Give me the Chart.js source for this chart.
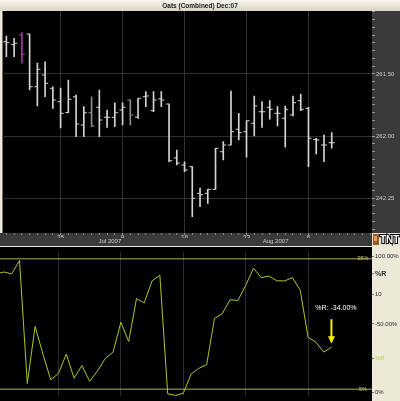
<!DOCTYPE html>
<html><head><meta charset="utf-8">
<script src="https://cdn.jsdelivr.net/npm/chart.js@4.4.0/dist/chart.umd.min.js"></script>
<style>
html,body{margin:0;padding:0;background:#ece9d8;width:400px;height:401px;overflow:hidden}
#w1{position:absolute;left:0;top:0;width:400px;height:246px}
#w2{position:absolute;left:0;top:247px;width:400px;height:154px}
</style></head><body>
<div id="w1"><canvas id="c1"></canvas></div>
<div id="w2"><canvas id="c2"></canvas></div>
<script>
// ---------- data ----------
const TITLE = 'Oats (Combined) Dec:07';
const OPEN  = [266.45,266.00,267.50,267.63,259.55,261.35,259.31,257.26,255.60,258.02,253.69,255.57,256.40,254.87,254.87,255.98,257.52,254.87,258.02,255.88,257.70,256.90,248.63,247.56,247.30,243.22,243.22,243.83,249.59,250.62,253.03,252.66,253.95,255.72,256.40,255.48,254.71,255.22,257.41,256.24,251.49,250.62,250.97];
const HIGH  = [267.32,266.97,267.83,267.63,263.19,263.38,259.55,259.35,260.58,258.28,256.49,258.02,259.05,255.98,257.10,257.10,257.52,257.78,258.79,258.79,258.79,256.90,249.85,248.06,247.30,244.03,243.83,250.12,251.13,258.90,255.48,254.34,258.13,257.26,257.41,256.49,256.60,258.13,258.44,256.40,251.65,252.15,252.51];
const LOW   = [264.15,264.15,263.14,259.05,256.60,258.02,256.24,253.23,255.52,251.89,251.89,253.42,251.89,253.33,253.42,253.69,253.69,254.71,256.49,255.72,256.49,248.06,247.56,246.53,239.63,241.17,241.69,243.83,248.32,250.62,251.39,248.74,252.00,253.33,254.56,253.53,250.27,255.06,255.88,247.30,249.24,248.06,250.12];
const CLOSE = [266.30,266.20,264.50,259.55,262.22,260.07,257.52,255.48,257.62,253.84,255.57,253.53,254.45,254.87,255.57,256.40,255.22,257.78,258.13,257.52,257.50,248.22,247.86,246.79,242.45,243.00,243.83,250.12,250.62,252.66,252.51,254.34,256.60,255.72,256.09,255.48,256.09,257.10,256.09,251.65,251.39,250.62,250.97];
const BAR_COLORS = OPEN.map((_, i) => i === 2 ? '#a03ca0' : (i === 11 || i === 16) ? '#8c8c8c' : '#d4d4d4');

const DAY_TICKS = [7, 15, 23, 31, 39];
const DAY_LABELS = ['25', '9', '16', '23', '6'];
const MONTH_TICKS = [11.9, 33.1];
const MONTH_LABELS = ['Jul 2007', 'Aug 2007'];

const PRICE_TICKS = [261.5, 252.0, 242.5];
const PRICE_TICK_LABELS = ['261.50', '262.00', '242.25'];

// Williams %R (first value is the bar before the visible range)
const PCTR = [84.6,85.9,84.6,93.9,8.9,48.3,29.3,11.5,15.8,29.3,12.6,21.3,10.4,17.6,26.2,30.6,51.2,37.9,67.5,64.6,79.8,83.7,1.8,0.7,2.1,15.4,19.4,21.9,53.8,57.1,66.8,66.2,76.6,88.5,82.0,83.1,79.8,79.8,82.0,73.3,40.8,37.5,30.6,34.0];
const PCTR_LEVELS = [95, 5];
const PCTR_LEVEL_LABELS = ['95%', '5%'];
const PCTR_AXIS_TICKS = [96.9, 84.6, 70.3, 50.1, 26.0, 2.6];
const PCTR_AXIS_LABELS = ['100.00%', '%R', '10', '-50.00%', '%R', '0%'];
const ANNOTATION = '%R: -34.00%';

// ---------- charts ----------
Chart.defaults.font.family = "'Liberation Sans', Arial, sans-serif";
const X_MIN = -0.5, X_MAX = 47.2;
const GRID = '#303030';

const bg1 = {
  id: 'bg1',
  beforeDraw(chart) {
    const c = chart.ctx, a = chart.chartArea, W = chart.width, H = chart.height;
    c.save();
    const g = c.createLinearGradient(0, 0, 0, a.top);
    g.addColorStop(0, '#f7f6f0'); g.addColorStop(1, '#d9d5c3');
    c.fillStyle = g; c.fillRect(0, 0, W, a.top);
    c.fillStyle = '#000'; c.fillRect(a.left, a.top, a.right - a.left, a.bottom - a.top);
    c.fillStyle = '#3a3a3a';
    c.fillRect(a.right, a.top, W - a.right, H - a.top);
    c.fillRect(0, a.bottom, a.right, H - a.bottom);
    c.restore();
  },
  afterDraw(chart) {
    const c = chart.ctx, a = chart.chartArea, W = chart.width, H = chart.height;
    c.save();
    c.fillStyle = '#e6e2d4'; c.fillRect(a.right, a.bottom, W - a.right, H - a.bottom);
    c.fillStyle = '#9a5a2a'; c.fillRect(a.right + 1, a.bottom + 1, 6, H - a.bottom - 2);
    c.fillStyle = '#e0a050'; c.fillRect(a.right + 2, a.bottom + 3, 3, 5);
    c.font = "bold 10px 'Liberation Sans', Arial";
    c.textAlign = 'left'; c.textBaseline = 'middle';
    c.lineWidth = 2; c.strokeStyle = '#000';
    c.strokeText('TNT', a.right + 8, (a.bottom + H) / 2 + 0.5);
    c.fillStyle = '#fff';
    c.fillText('TNT', a.right + 8, (a.bottom + H) / 2 + 0.5);
    c.restore();
  }
};

new Chart(document.getElementById('c1'), {
  data: {
    datasets: [
      { type: 'bar', data: HIGH.map((h, i) => ({ x: i, y: [LOW[i], h] })), backgroundColor: BAR_COLORS,
        barThickness: 1, grouped: false, borderWidth: 0, xAxisID: 'x', yAxisID: 'y' },
      { type: 'scatter', data: OPEN.map((o, i) => ({ x: i - 0.2, y: o })), showLine: false,
        pointStyle: 'line', pointRadius: 1.5, pointHoverRadius: 1.5, pointBorderWidth: 1,
        pointBorderColor: BAR_COLORS, pointBackgroundColor: BAR_COLORS, xAxisID: 'x', yAxisID: 'y' },
      { type: 'scatter', data: CLOSE.map((o, i) => ({ x: i + 0.2, y: o })), showLine: false,
        pointStyle: 'line', pointRadius: 1.5, pointHoverRadius: 1.5, pointBorderWidth: 1,
        pointBorderColor: BAR_COLORS, pointBackgroundColor: BAR_COLORS, xAxisID: 'x', yAxisID: 'y' }
    ]
  },
  options: {
    animation: false, responsive: true, maintainAspectRatio: false, devicePixelRatio: 1,
    events: [],
    layout: { padding: 0 },
    plugins: {
      legend: { display: false }, tooltip: { enabled: false },
      title: { display: true, text: TITLE, color: '#1a1a1a',
        font: { size: 6.5, weight: 'bold', lineHeight: 1.2 }, padding: { top: 2, bottom: 1.2 } }
    },
    scales: {
      x: {
        type: 'linear', position: 'bottom', min: X_MIN, max: X_MAX, offset: false,
        afterBuildTicks: s => { const t = []; for (let i = 0; i <= 47; i++) t.push({ value: i }); s.ticks = t; },
        afterFit: s => { s.height = 5; },
        border: { display: false },
        grid: { offset: false, drawTicks: true, tickLength: 2, tickColor: '#8a8a8a',
          color: c => (c.tick && DAY_TICKS.includes(c.tick.value)) ? GRID : 'rgba(0,0,0,0)' },
        ticks: { autoSkip: false, maxRotation: 0, minRotation: 0, padding: -1, color: '#cfcfcf',
          font: { size: 6.5 },
          callback: v => { const k = DAY_TICKS.indexOf(v); return k >= 0 ? DAY_LABELS[k] : ''; } }
      },
      x2: {
        type: 'linear', position: 'bottom', min: X_MIN, max: X_MAX, offset: false,
        afterBuildTicks: s => { s.ticks = MONTH_TICKS.map(v => ({ value: v })); },
        afterFit: s => { s.height = 8; },
        border: { display: false },
        grid: { drawOnChartArea: false, drawTicks: false },
        ticks: { autoSkip: false, maxRotation: 0, minRotation: 0, padding: 0, align: 'start', color: '#cfcfcf',
          font: { size: 6 },
          callback: v => { const k = MONTH_TICKS.indexOf(v); return k >= 0 ? MONTH_LABELS[k] : ''; } }
      },
      y: {
        type: 'linear', position: 'right', min: 237.14, max: 271.15,
        afterBuildTicks: s => { const t = []; for (let k = -4; k <= 24; k++) t.push({ value: 242.5 + k * 1.1875 }); s.ticks = t; },
        afterFit: s => { s.width = 28; },
        border: { display: false },
        grid: { drawTicks: true, tickLength: 3, tickColor: '#9a9a9a',
          color: c => (c.tick && PRICE_TICKS.some(p => Math.abs(p - c.tick.value) < 1e-6)) ? GRID : 'rgba(0,0,0,0)' },
        ticks: { autoSkip: false, padding: 1, color: '#cfcfcf', font: { size: 6 },
          callback: v => { const k = PRICE_TICKS.findIndex(p => Math.abs(p - v) < 1e-6); return k >= 0 ? PRICE_TICK_LABELS[k] : ''; } }
      }
    }
  },
  plugins: [bg1]
});

const bg2 = {
  id: 'bg2',
  beforeDraw(chart) {
    const c = chart.ctx, a = chart.chartArea, W = chart.width, H = chart.height;
    c.save();
    c.fillStyle = '#000'; c.fillRect(0, 0, a.right, H);
    c.fillStyle = '#ece9d8'; c.fillRect(a.right, 0, W - a.right, H);
    c.restore();
  },
  afterDatasetsDraw(chart) {
    const c = chart.ctx, a = chart.chartArea, ys = chart.scales.y;
    const meta = chart.getDatasetMeta(0);
    const pt = meta.data[meta.data.length - 1];
    c.save();
    // level labels
    c.font = "5.5px 'Liberation Sans', Arial";
    c.fillStyle = '#c8c870'; c.textAlign = 'center'; c.textBaseline = 'middle';
    PCTR_LEVELS.forEach((v, k) => c.fillText(PCTR_LEVEL_LABELS[k], a.right - 9, ys.getPixelForValue(v)));
    // arrow + text
    const x = pt.x, y = pt.y;
    c.strokeStyle = '#f2f200'; c.lineWidth = 2;
    c.beginPath(); c.moveTo(x, y - 28); c.lineTo(x, y - 10); c.stroke();
    c.fillStyle = '#f2f200';
    c.beginPath(); c.moveTo(x - 3.5, y - 11); c.lineTo(x + 3.5, y - 11); c.lineTo(x, y - 3.5); c.closePath(); c.fill();
    c.fillStyle = '#ffffff'; c.font = "7px 'Liberation Sans', Arial";
    c.textAlign = 'center'; c.textBaseline = 'middle';
    c.fillText(ANNOTATION, x + 4.5, y - 39);
    c.restore();
  }
};

const levelSets = PCTR_LEVELS.map(v => ({
  type: 'line', data: [{ x: X_MIN, y: v }, { x: X_MAX, y: v }], borderColor: '#b4b45a', borderWidth: 1,
  pointRadius: 0, pointHoverRadius: 0, xAxisID: 'x', yAxisID: 'y'
}));

new Chart(document.getElementById('c2'), {
  data: {
    datasets: [
      { type: 'line', data: PCTR.map((v, k) => ({ x: k - 1, y: v })), borderColor: '#a6c82a', borderWidth: 1,
        pointRadius: 0, pointHoverRadius: 0, tension: 0, xAxisID: 'x', yAxisID: 'y' },
      ...levelSets
    ]
  },
  options: {
    animation: false, responsive: true, maintainAspectRatio: false, devicePixelRatio: 1,
    events: [],
    layout: { padding: 0 },
    plugins: { legend: { display: false }, tooltip: { enabled: false }, title: { display: false } },
    scales: {
      x: {
        type: 'linear', position: 'bottom', min: X_MIN, max: X_MAX, offset: false,
        afterBuildTicks: s => { s.ticks = DAY_TICKS.map(v => ({ value: v })); },
        afterFit: s => { s.height = 0; },
        border: { display: false },
        grid: { drawTicks: false, color: '#2a2a2a' },
        ticks: { display: false }
      },
      y: {
        type: 'linear', position: 'right', min: 0, max: 100,
        afterBuildTicks: s => { s.ticks = PCTR_AXIS_TICKS.map(v => ({ value: v })); },
        afterFit: s => { s.width = 28; },
        border: { display: false },
        grid: { drawOnChartArea: false, drawTicks: true, tickLength: 2, tickColor: '#707070' },
        ticks: {
          autoSkip: false, padding: 1,
          color: c => c.index === 4 ? '#a8d848' : '#2a2a2a',
          font: c => c.index === 1 ? { size: 7, weight: 'bold' } : { size: 6 },
          callback: (v, i) => PCTR_AXIS_LABELS[i]
        }
      }
    }
  },
  plugins: [bg2]
});
</script>
</body></html>
